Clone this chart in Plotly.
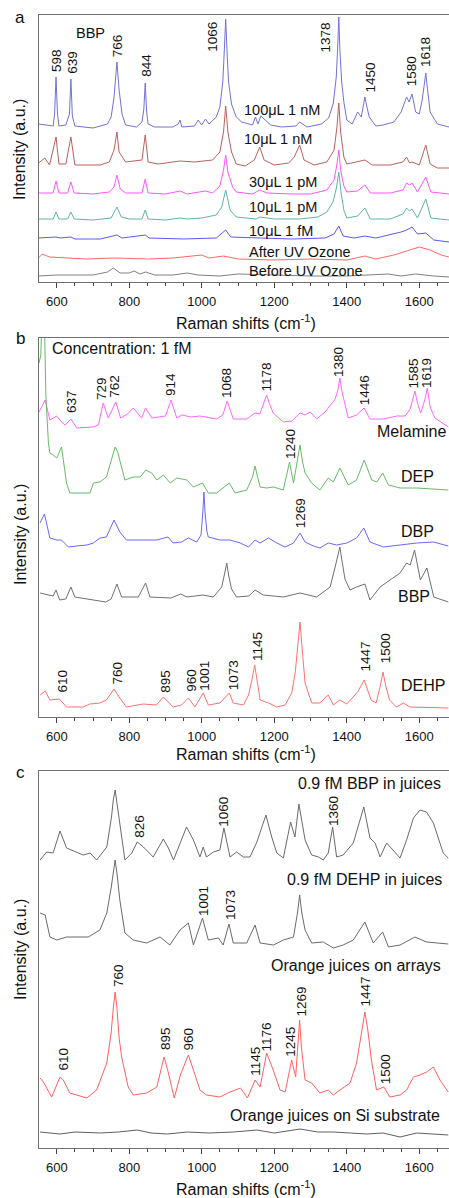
import plotly.graph_objects as go

W, H = 449, 1198
FONT = "Arial, Liberation Sans, sans-serif"

# ---------------- DATA (Raman shift in cm^-1, intensity in a.u.) ----------------
# Panel a : BBP at several concentrations
a_100uL_1nM_x = [550, 570, 590, 594, 598, 602, 606, 625, 635, 639, 643, 650, 700, 740, 750, 758, 766, 772, 780, 790, 820, 835, 840, 844, 848, 852, 870, 920, 935, 940, 945, 980, 990, 1000, 1010, 1020, 1040, 1050, 1058, 1062, 1066, 1070, 1074, 1082, 1095, 1110, 1140, 1148, 1155, 1163, 1172, 1190, 1220, 1260, 1270, 1290, 1330, 1350, 1363, 1371, 1375, 1378, 1381, 1386, 1392, 1400, 1415, 1430, 1440, 1446, 1450, 1455, 1462, 1480, 1500, 1530, 1550, 1565, 1572, 1580, 1590, 1600, 1608, 1614, 1618, 1622, 1630, 1650, 1682]
a_100uL_1nM_y = [158, 157, 156, 168, 205, 168, 156, 157, 168, 203, 166, 156, 154, 158, 165, 185, 220, 192, 168, 157, 155, 160, 172, 199, 170, 158, 155, 155, 158, 162, 155, 156, 162, 157, 163, 158, 165, 175, 200, 230, 263, 228, 200, 178, 165, 160, 157, 165, 158, 166, 163, 157, 155, 156, 160, 155, 158, 164, 179, 205, 235, 265, 232, 200, 180, 162, 158, 170, 165, 178, 185, 176, 165, 156, 157, 160, 170, 185, 180, 188, 170, 168, 182, 198, 209, 195, 170, 158, 155]

a_10uL_1nM_x = [550, 567, 580, 598, 606, 625, 639, 650, 680, 720, 745, 758, 766, 772, 790, 820, 835, 844, 852, 880, 940, 980, 1000, 1030, 1050, 1060, 1066, 1072, 1082, 1095, 1120, 1145, 1160, 1172, 1200, 1240, 1255, 1270, 1282, 1310, 1345, 1365, 1373, 1378, 1383, 1392, 1400, 1430, 1450, 1470, 1520, 1555, 1565, 1573, 1580, 1600, 1618, 1630, 1650, 1682]
a_10uL_1nM_y = [119, 124, 117, 145, 118, 118, 145, 117, 117, 117, 120, 132, 150, 130, 120, 121, 122, 147, 120, 118, 121, 120, 121, 122, 130, 150, 176, 150, 130, 118, 116, 122, 135, 122, 117, 119, 125, 137, 122, 117, 120, 132, 155, 179, 150, 125, 118, 120, 122, 117, 117, 120, 125, 119, 120, 117, 137, 118, 114, 114]

a_30uL_1pM_x = [550, 590, 598, 606, 630, 639, 648, 700, 745, 758, 766, 775, 790, 835, 844, 852, 900, 940, 960, 1010, 1030, 1050, 1060, 1066, 1072, 1085, 1095, 1140, 1160, 1180, 1250, 1300, 1345, 1365, 1373, 1378, 1383, 1392, 1400, 1430, 1450, 1465, 1520, 1555, 1565, 1573, 1580, 1595, 1618, 1632, 1682]
a_30uL_1pM_y = [89, 89, 101, 89, 89, 100, 89, 88, 90, 95, 107, 93, 89, 89, 103, 89, 88, 91, 88, 91, 89, 96, 112, 127, 110, 95, 90, 88, 92, 89, 88, 88, 92, 102, 118, 132, 112, 96, 90, 91, 97, 89, 89, 92, 99, 97, 99, 90, 105, 90, 88]

a_10uL_1pM_x = [550, 590, 598, 606, 630, 639, 648, 700, 750, 766, 778, 800, 835, 844, 852, 900, 940, 960, 1000, 1040, 1055, 1061, 1066, 1071, 1078, 1095, 1150, 1160, 1200, 1270, 1320, 1345, 1362, 1372, 1378, 1384, 1392, 1400, 1430, 1450, 1465, 1520, 1555, 1565, 1573, 1580, 1595, 1618, 1632, 1682]
a_10uL_1pM_y = [63, 63, 70, 63, 63, 70, 63, 62, 64, 75, 65, 63, 63, 72, 63, 62, 64, 63, 64, 67, 75, 85, 92, 84, 72, 65, 63, 65, 63, 63, 65, 70, 80, 95, 110, 90, 72, 64, 66, 74, 63, 63, 68, 74, 71, 73, 64, 83, 64, 62]

a_10uL_1fM_x = [550, 598, 610, 639, 650, 720, 766, 780, 844, 855, 950, 1040, 1066, 1080, 1160, 1250, 1340, 1365, 1378, 1390, 1420, 1450, 1480, 1520, 1550, 1565, 1580, 1595, 1618, 1640, 1682]
a_10uL_1fM_y = [44, 45, 44, 45, 43, 43, 47, 44, 47, 44, 43, 44, 52, 45, 44, 43, 44, 48, 56, 46, 44, 46, 44, 47, 50, 52, 55, 48, 49, 42, 40]

a_after_uv_x = [550, 560, 580, 620, 680, 760, 850, 920, 1000, 1020, 1060, 1100, 1200, 1300, 1400, 1450, 1480, 1530, 1570, 1600, 1630, 1660, 1682]
a_after_uv_y = [24, 28, 25, 24, 23, 24, 23, 24, 27, 24, 26, 23, 22, 23, 22, 26, 23, 27, 32, 35, 32, 27, 25]

a_before_uv_x = [550, 600, 640, 700, 740, 756, 775, 800, 813, 830, 845, 870, 920, 960, 990, 1050, 1100, 1200, 1300, 1400, 1450, 1514, 1550, 1590, 1640, 1682]
a_before_uv_y = [6, 7, 7, 7, 10, 14, 9, 9, 11, 8, 10, 7, 7, 9, 7, 6, 8, 7, 6, 6, 7, 8, 6, 8, 6, 5]

# Panel b : different analytes at 1 fM
b_melamine_x = [551, 554, 568, 581, 589, 600, 613, 623, 639, 655, 701, 715, 728, 742, 763, 776, 795, 811, 834, 845, 862, 900, 915, 931, 945, 970, 995, 1020, 1041, 1058, 1070, 1087, 1124, 1147, 1160, 1172, 1179, 1186, 1197, 1225, 1248, 1271, 1285, 1299, 1317, 1340, 1354, 1368, 1375, 1381, 1387, 1393, 1404, 1427, 1448, 1464, 1501, 1538, 1561, 1575, 1582, 1588, 1595, 1604, 1616, 1622, 1630, 1643, 1680]
b_melamine_y = [305, 307, 317, 297, 299, 301, 295, 292, 298, 289, 290, 292, 314, 299, 315, 299, 303, 309, 299, 309, 299, 301, 317, 299, 302, 300, 301, 299, 298, 302, 316, 298, 298, 304, 303, 315, 322, 314, 304, 295, 296, 304, 302, 305, 298, 305, 312, 318, 326, 339, 325, 315, 299, 302, 309, 298, 298, 301, 301, 308, 318, 326, 314, 304, 318, 329, 310, 299, 290]

b_dep_x = [551, 556, 559, 563, 566, 570, 577, 581, 590, 600, 613, 627, 636, 692, 701, 719, 737, 752, 761, 768, 774, 788, 811, 830, 846, 862, 876, 894, 913, 931, 959, 977, 1002, 1018, 1041, 1076, 1092, 1124, 1140, 1147, 1154, 1161, 1179, 1198, 1225, 1242, 1253, 1264, 1271, 1278, 1285, 1303, 1326, 1349, 1363, 1381, 1404, 1427, 1448, 1469, 1483, 1499, 1515, 1547, 1593, 1680]
b_dep_y = [354, 362, 395, 400, 395, 321, 274, 264, 262, 259, 270, 234, 224, 224, 234, 235, 240, 258, 270, 265, 257, 237, 240, 240, 247, 244, 237, 242, 234, 239, 237, 230, 234, 224, 224, 234, 224, 227, 240, 251, 240, 230, 229, 230, 227, 255, 234, 255, 272, 255, 244, 234, 227, 239, 235, 249, 232, 237, 257, 237, 235, 244, 232, 229, 229, 227]

b_dbp_x = [554, 566, 581, 600, 613, 632, 655, 683, 701, 719, 737, 758, 774, 792, 847, 875, 907, 921, 944, 963, 986, 998, 1003, 1006, 1009, 1014, 1018, 1032, 1050, 1078, 1106, 1129, 1147, 1161, 1184, 1207, 1230, 1253, 1271, 1285, 1308, 1326, 1349, 1372, 1400, 1427, 1447, 1464, 1501, 1547, 1593, 1639, 1680]
b_dbp_y = [194, 203, 179, 177, 177, 170, 171, 172, 174, 179, 180, 197, 185, 177, 177, 177, 180, 174, 175, 179, 175, 182, 205, 225, 205, 186, 180, 179, 177, 177, 174, 170, 177, 174, 179, 174, 170, 174, 184, 175, 171, 169, 174, 172, 174, 179, 189, 175, 170, 172, 174, 175, 171]

b_bbp_x = [554, 590, 598, 608, 625, 639, 650, 700, 735, 750, 766, 779, 825, 845, 857, 915, 942, 959, 1003, 1032, 1055, 1064, 1069, 1074, 1082, 1096, 1130, 1147, 1170, 1225, 1271, 1317, 1354, 1368, 1376, 1381, 1386, 1395, 1409, 1427, 1450, 1464, 1492, 1519, 1547, 1565, 1575, 1587, 1603, 1621, 1640, 1680]
b_bbp_y = [124, 121, 127, 117, 118, 130, 120, 117, 115, 118, 133, 120, 120, 134, 120, 119, 123, 120, 122, 120, 130, 145, 154, 142, 128, 120, 121, 127, 122, 120, 124, 120, 130, 150, 163, 170, 158, 138, 127, 130, 133, 117, 130, 137, 144, 154, 152, 167, 137, 149, 120, 115]

b_dehp_x = [554, 568, 581, 607, 627, 673, 691, 719, 737, 758, 774, 792, 838, 875, 894, 921, 944, 963, 981, 1004, 1018, 1050, 1076, 1087, 1115, 1129, 1140, 1146, 1152, 1161, 1184, 1207, 1230, 1248, 1258, 1265, 1271, 1277, 1285, 1303, 1326, 1349, 1363, 1381, 1400, 1430, 1448, 1467, 1481, 1493, 1500, 1507, 1518, 1537, 1556, 1574, 1680]
b_dehp_y = [22, 26, 17, 18, 10, 10, 13, 14, 17, 28, 19, 10, 13, 12, 20, 10, 12, 19, 10, 24, 12, 14, 24, 14, 12, 22, 40, 52, 38, 17, 14, 10, 12, 24, 45, 72, 95, 68, 34, 14, 14, 22, 12, 17, 13, 25, 37, 17, 14, 32, 45, 32, 17, 10, 14, 10, 9]

# Panel c : juice samples
c_bbp_juice_x = [554, 572, 590, 609, 627, 641, 655, 673, 692, 710, 738, 751, 756, 761, 766, 774, 788, 807, 822, 839, 866, 894, 908, 922, 940, 958, 977, 995, 1004, 1013, 1032, 1050, 1061, 1078, 1096, 1115, 1133, 1152, 1177, 1193, 1207, 1225, 1245, 1257, 1268, 1285, 1303, 1322, 1335, 1349, 1361, 1372, 1390, 1418, 1447, 1464, 1478, 1492, 1510, 1528, 1547, 1565, 1584, 1602, 1620, 1639, 1666, 1680]
c_bbp_juice_y = [288, 296, 295, 317, 300, 298, 296, 293, 295, 288, 301, 331, 348, 358, 345, 325, 288, 295, 306, 301, 291, 309, 300, 288, 305, 321, 308, 291, 301, 291, 296, 298, 320, 291, 296, 291, 291, 306, 333, 311, 295, 290, 326, 311, 344, 308, 293, 291, 288, 295, 321, 291, 293, 305, 341, 310, 305, 291, 305, 298, 290, 308, 330, 338, 336, 325, 295, 290]

c_dehp_juice_x = [554, 568, 581, 600, 627, 655, 687, 719, 738, 750, 756, 761, 766, 774, 788, 811, 848, 885, 912, 940, 963, 977, 1002, 1018, 1046, 1059, 1075, 1087, 1124, 1147, 1161, 1198, 1225, 1253, 1264, 1270, 1276, 1285, 1303, 1335, 1363, 1390, 1418, 1450, 1473, 1499, 1515, 1547, 1588, 1620, 1680]
c_dehp_juice_y = [235, 233, 211, 208, 211, 211, 211, 218, 235, 260, 278, 288, 275, 248, 215, 208, 205, 211, 203, 218, 225, 203, 230, 208, 210, 203, 224, 205, 205, 223, 205, 203, 208, 211, 235, 253, 235, 218, 205, 206, 200, 203, 208, 226, 205, 216, 201, 203, 211, 206, 204]

c_juice_array_x = [554, 563, 586, 609, 618, 636, 683, 710, 738, 750, 756, 761, 766, 772, 779, 797, 811, 848, 876, 896, 908, 924, 941, 963, 977, 995, 1013, 1050, 1078, 1107, 1126, 1147, 1161, 1179, 1197, 1216, 1230, 1248, 1259, 1266, 1270, 1275, 1285, 1303, 1326, 1349, 1363, 1381, 1409, 1427, 1440, 1450, 1458, 1468, 1482, 1502, 1519, 1547, 1565, 1584, 1602, 1620, 1639, 1657, 1680]
c_juice_array_y = [70, 66, 51, 71, 68, 55, 50, 58, 85, 115, 140, 156, 140, 110, 91, 61, 53, 55, 61, 91, 75, 50, 73, 93, 78, 58, 53, 51, 56, 60, 50, 68, 61, 95, 78, 58, 56, 88, 71, 105, 128, 100, 68, 65, 55, 58, 53, 58, 65, 85, 115, 136, 118, 88, 58, 61, 51, 53, 58, 71, 73, 76, 81, 68, 56]

c_juice_si_x = [554, 580, 609, 650, 720, 770, 822, 860, 905, 960, 1020, 1087, 1152, 1200, 1271, 1320, 1363, 1410, 1455, 1500, 1547, 1593, 1640, 1680]
c_juice_si_y = [16, 15, 14, 16, 15, 16, 18, 15, 14, 16, 15, 16, 18, 15, 19, 16, 16, 15, 14, 15, 11, 15, 14, 13]

# Tick values
x_ticks = [600, 800, 1000, 1200, 1400, 1600]

# ---------------- FIGURE ----------------
fig = go.Figure()

def add(x, y, color, ax):
    fig.add_trace(go.Scatter(x=x, y=y, mode="lines", line=dict(color=color, width=1),
                             xaxis="x" + ("" if ax == 1 else str(ax)),
                             yaxis="y" + ("" if ax == 1 else str(ax)),
                             showlegend=False, hoverinfo="skip"))

add(a_100uL_1nM_x, a_100uL_1nM_y, "#7272d6", 1)
add(a_10uL_1nM_x, a_10uL_1nM_y, "#bb6060", 1)
add(a_30uL_1pM_x, a_30uL_1pM_y, "#ff55ff", 1)
add(a_10uL_1pM_x, a_10uL_1pM_y, "#5fb4a4", 1)
add(a_10uL_1fM_x, a_10uL_1fM_y, "#5a5af5", 1)
add(a_after_uv_x, a_after_uv_y, "#ff6868", 1)
add(a_before_uv_x, a_before_uv_y, "#808080", 1)

add(b_melamine_x, b_melamine_y, "#ff66ff", 2)
add(b_dep_x, b_dep_y, "#66bb66", 2)
add(b_dbp_x, b_dbp_y, "#6868ff", 2)
add(b_bbp_x, b_bbp_y, "#707070", 2)
add(b_dehp_x, b_dehp_y, "#ff7070", 2)

add(c_bbp_juice_x, c_bbp_juice_y, "#6a6a6a", 3)
add(c_dehp_juice_x, c_dehp_juice_y, "#6a6a6a", 3)
add(c_juice_array_x, c_juice_array_y, "#ff6060", 3)
add(c_juice_si_x, c_juice_si_y, "#606060", 3)

# panel pixel geometry (top, bottom)
X_LEFT = 39
panels = {1: (15, 282), 2: (338, 717), 3: (771, 1148)}

def xaxis_cfg():
    return dict(domain=[X_LEFT / W, 1.0], range=[551, 1682], tickvals=x_ticks,
                ticks="outside", ticklen=5, tickwidth=1, tickcolor="#444",
                showline=True, linecolor="#707070", linewidth=1.2, mirror=True,
                showgrid=False, zeroline=False, ticklabelstandoff=2,
                tickfont=dict(family=FONT, size=13, color="#111"),
                minor=dict(ticks="outside", ticklen=3, dtick=50, tick0=0, tickcolor="#444", showgrid=False))

def yaxis_cfg(k, anchor):
    top, bot = panels[k]
    return dict(domain=[1 - bot / H, 1 - top / H], range=[0, bot - top], showticklabels=False,
                ticks="", showline=True, linecolor="#707070", linewidth=1.2, showgrid=False,
                zeroline=False, anchor=anchor, fixedrange=True)

layout = dict(width=W, height=H, margin=dict(l=0, r=0, t=0, b=0),
              paper_bgcolor="white", plot_bgcolor="white")
layout["xaxis"] = dict(xaxis_cfg(), anchor="y")
layout["xaxis2"] = dict(xaxis_cfg(), anchor="y2")
layout["xaxis3"] = dict(xaxis_cfg(), anchor="y3")
layout["yaxis"] = yaxis_cfg(1, "x")
layout["yaxis2"] = yaxis_cfg(2, "x2")
layout["yaxis3"] = yaxis_cfg(3, "x3")
fig.update_layout(**layout)

anns = []

def ann(text, px, py, size, angle=0, xanchor="center", yanchor="middle"):
    anns.append(dict(text=text, x=px / W, y=1 - py / H, xref="paper", yref="paper",
                     showarrow=False, textangle=angle, xanchor=xanchor, yanchor=yanchor,
                     font=dict(family=FONT, size=size, color="#111"), borderpad=0))

# panel letters
ann("a", 20, 17, 17)
ann("b", 20, 338, 17)
ann("c", 20, 772, 17)

# axis titles
for yy in (322, 753, 1188):
    ann("Raman shifts (cm<sup>-1</sup>)", 246, yy, 16)
for yy in (150, 535, 950):
    ann("Intensity (a.u.)", 20, yy, 16, angle=-90)

# peak labels (text, x px, y px center)
peak_labels = [
    ("598", 56, 61), ("639", 71.7, 62), ("766", 118.3, 46), ("844", 145.7, 65),
    ("1066", 212.7, 37), ("1378", 325, 37.5), ("1450", 370, 77.5), ("1580", 412.3, 71), ("1618", 425.5, 52.5),
    ("637", 71, 402), ("729", 101.7, 388.3), ("762", 115, 386.7), ("914", 170, 385), ("1068", 226.7, 383.3),
    ("1178", 266.7, 376.7), ("1380", 338.3, 361.7), ("1446", 364.3, 390), ("1585", 413.3, 373.3), ("1619", 426.7, 373.3),
    ("1240", 290, 444), ("1269", 300, 513.3),
    ("610", 62.3, 681.3), ("760", 117.3, 673.3), ("895", 165.7, 681), ("960", 191.7, 680), ("1001", 205, 675.8),
    ("1073", 233.3, 675), ("1145", 257.3, 646.7), ("1447", 365.7, 656.7), ("1500", 385, 648.3),
    ("826", 140, 826.7), ("1060", 224, 811.7), ("1360", 333.3, 810.8),
    ("1001", 203.3, 900.8), ("1073", 230, 905),
    ("760", 118.3, 975.8), ("610", 63.3, 1059.2), ("895", 165.7, 1038.3), ("960", 188.3, 1039.2),
    ("1145", 256, 1061.7), ("1176", 266.7, 1036.7), ("1245", 291, 1041.7), ("1269", 301.7, 1001.7),
    ("1447", 365.7, 991.7), ("1500", 385, 1069.2),
]
for t, px, py in peak_labels:
    ann(t, px, py, 13.5, angle=-90)

# series labels panel a
ann("BBP", 90, 33.3, 14.5)
for t, py in [("100\u03bcL 1 nM", 110), ("10\u03bcL 1 nM", 139.3)]:
    ann(t, 243.3, py, 14.5, xanchor="left")
for t, py in [("30\u03bcL 1 pM", 181.7), ("10\u03bcL 1 pM", 206.7), ("10\u03bcL 1 fM", 230.7),
              ("After UV Ozone", 251.7), ("Before UV Ozone", 270.7)]:
    ann(t, 247.5, py, 14.5, xanchor="left")

# panel b labels
ann("Concentration: 1 fM", 50.7, 348.3, 16, xanchor="left")
ann("Melamine", 446.7, 431.7, 16, xanchor="right")
ann("DEP", 400, 476.7, 16, xanchor="left")
ann("DBP", 400, 531.7, 16, xanchor="left")
ann("BBP", 397, 596.7, 16, xanchor="left")
ann("DEHP", 400, 685, 16, xanchor="left")

# panel c labels
ann("0.9 fM BBP in juices", 441.7, 783.3, 16, xanchor="right")
ann("0.9 fM DEHP in juices", 443.3, 880, 16, xanchor="right")
ann("Orange juices on arrays", 441.7, 965, 16, xanchor="right")
ann("Orange juices on Si substrate", 440.7, 1115, 16, xanchor="right")

fig.update_layout(annotations=anns)
fig.write_html("out.html", config={"displayModeBar": False},
               post_script="document.body.style.margin='0';document.body.style.overflow='hidden';")
